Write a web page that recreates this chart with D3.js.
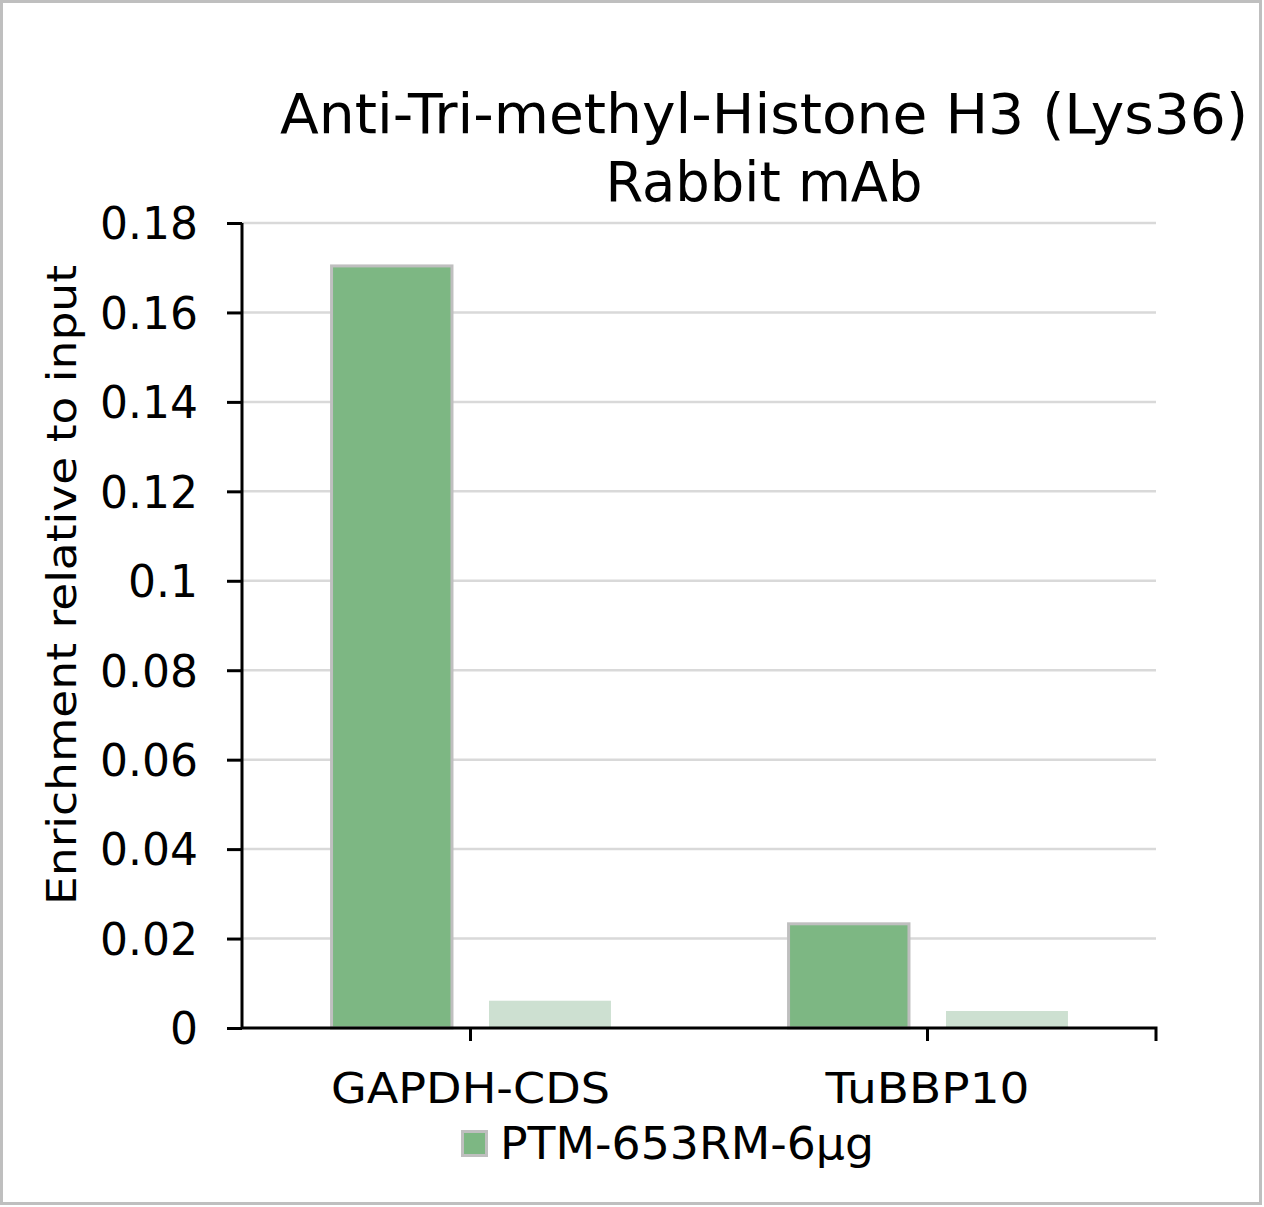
<!DOCTYPE html>
<html><head><meta charset="utf-8">
<script src="https://cdn.jsdelivr.net/npm/d3@7"></script>
<style>body{margin:0;background:#fff}svg{display:block}text{font-family:"DejaVu Sans",Verdana,sans-serif}</style>
</head><body>
<svg id="c" width="1264" height="1207"></svg>
<script>
const categories = ["GAPDH-CDS", "TuBBP10"];
const series = ["PTM-653RM-6μg", "Control"];
const seriesMain = [0.1704, 0.0233];
const seriesControl = [0.0061, 0.0038];
const yTicks = [0, 0.02, 0.04, 0.06, 0.08, 0.1, 0.12, 0.14, 0.16, 0.18];
const yTickLabels = ["0", "0.02", "0.04", "0.06", "0.08", "0.1", "0.12", "0.14", "0.16", "0.18"];
const titleLines = ["Anti-Tri-methyl-Histone H3 (Lys36)", "Rabbit mAb"];
const yLabel = "Enrichment relative to input";

const svg = d3.select("#c");
svg.append("rect").attr("x",1.5).attr("y",1.5).attr("width",1259).attr("height",1202)
  .attr("fill","#fff").attr("stroke","#bfbfbf").attr("stroke-width",3);

const L=242, R=1156, T=223, B=1028;
const x = d3.scaleBand().domain(categories).range([L,R]);
const xs = d3.scaleBand().domain(series).range([0, x.bandwidth()]).paddingInner(0.233).paddingOuter(0.554);
const y = d3.scaleLinear().domain([0,0.18]).range([B,T]);

// gridlines
svg.append("g").selectAll("line").data(yTicks.slice(1)).join("line")
  .attr("x1",L).attr("x2",R).attr("y1",d=>y(d)).attr("y2",d=>y(d))
  .attr("stroke","#d9d9d9").attr("stroke-width",2.5);

const data = categories.map((c,i)=>({c, vals:[seriesMain[i], seriesControl[i]]}));
const g = svg.append("g");
data.forEach(d=>{
  g.append("rect").attr("x",x(d.c)+xs(series[0])+1.5).attr("width",xs.bandwidth()-1.5)
    .attr("y",y(d.vals[0])).attr("height",B-y(d.vals[0]))
    .attr("fill","#7db783").attr("stroke","#bfbfbf").attr("stroke-width",3);
  g.append("rect").attr("x",x(d.c)+xs(series[1])).attr("width",xs.bandwidth())
    .attr("y",y(d.vals[1])).attr("height",B-y(d.vals[1]))
    .attr("fill","#cde0d1");
});

// y axis
const ya = svg.append("g").attr("transform",`translate(${L},0)`)
  .call(d3.axisLeft(y).tickValues(yTicks).tickFormat((d,i)=>yTickLabels[i]).tickSize(15).tickPadding(29));
ya.select(".domain").attr("stroke","#000").attr("stroke-width",3).attr("d",`M0,${T}V${B}`);
ya.selectAll(".tick line").attr("stroke","#000").attr("stroke-width",3);
ya.selectAll(".tick text").attr("font-size",44).attr("fill","#000").attr("font-family","DejaVu Sans").attr("dy","0.36em");

// x axis
const xa = svg.append("g").attr("transform",`translate(0,${B})`)
  .call(d3.axisBottom(x).tickSize(13).tickPadding(0).tickFormat(()=>""));
xa.select(".domain").attr("stroke","#000").attr("stroke-width",3).attr("d",`M${L},0H${R}V13`);
xa.selectAll(".tick line").attr("stroke","#000").attr("stroke-width",3);
const xLabelWidths = [279, 204];
svg.append("g").selectAll("text").data(categories).join("text")
  .attr("x",d=>x(d)+x.bandwidth()/2).attr("y",1103).attr("text-anchor","middle")
  .attr("font-size",42).attr("fill","#000")
  .attr("textLength",(d,i)=>xLabelWidths[i]).attr("lengthAdjust","spacingAndGlyphs").text(d=>d);

// title
const titleWidths = [968, 317];
svg.append("g").selectAll("text").data(titleLines).join("text")
  .attr("text-anchor","middle").attr("font-size",56).attr("fill","#000")
  .attr("x",764).attr("y",(d,i)=>133+i*68)
  .attr("textLength",(d,i)=>titleWidths[i]).attr("lengthAdjust","spacingAndGlyphs").text(d=>d);

// y label
svg.append("text").attr("transform","translate(76,585) rotate(-90)").attr("text-anchor","middle")
  .attr("font-size",41).attr("fill","#000")
  .attr("textLength",640).attr("lengthAdjust","spacingAndGlyphs").text(yLabel);

// legend
svg.append("rect").attr("x",462.5).attr("y",1131.5).attr("width",24).attr("height",24)
  .attr("fill","#7db783").attr("stroke","#bfbfbf").attr("stroke-width",3);
svg.append("text").attr("x",500).attr("y",1159).attr("font-size",45).attr("fill","#000")
  .attr("textLength",374).attr("lengthAdjust","spacingAndGlyphs").text(series[0]);
</script>
</body></html>
